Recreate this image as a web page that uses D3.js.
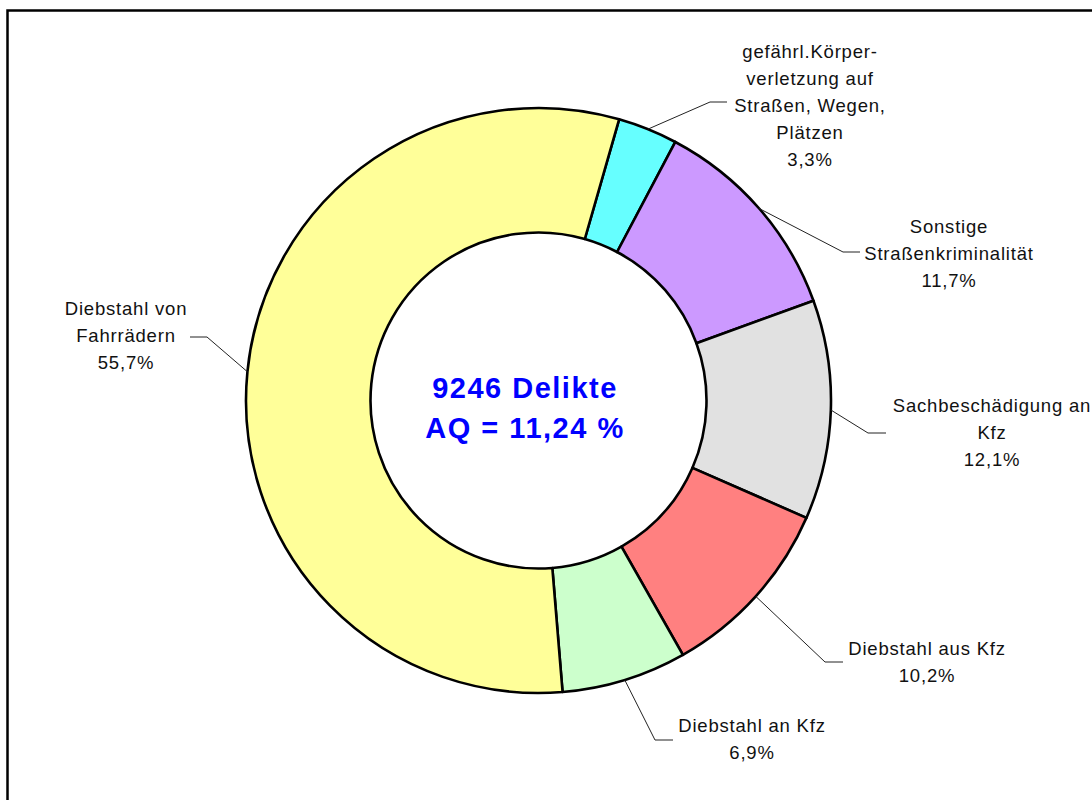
<!DOCTYPE html>
<html>
<head>
<meta charset="utf-8">
<script src="https://cdn.jsdelivr.net/npm/d3@7"></script>
<style>
	body { margin: 0; background: #fff; }
	svg { display: block; font-family: "Liberation Sans", Arial, sans-serif; }
</style>
</head>
<body>
<svg id="donut" width="1092" height="800" viewBox="0 0 1092 800"></svg>
<script>
// categories in clockwise order, starting at the top right
const categories = [
	["gefährl.Körper-", "verletzung auf", "Straßen, Wegen,", "Plätzen"],
	["Sonstige", "Straßenkriminalität"],
	["Sachbeschädigung an", "Kfz"],
	["Diebstahl aus Kfz"],
	["Diebstahl an Kfz"],
	["Diebstahl von", "Fahrrädern"]
];
const shares = [3.3, 11.7, 12.1, 10.2, 6.9, 55.7];
const shareLabels = ["3,3%", "11,7%", "12,1%", "10,2%", "6,9%", "55,7%"];
const colors = ["#66FFFF", "#CC99FF", "#E1E1E1", "#FF8080", "#CCFFCC", "#FFFF99"];
const centerLines = ["9246 Delikte", "AQ = 11,24 %"];

// where labels sit (text centre x, first line y, leader elbow, leader end)
const labelLayout = [
	{ x: 810, y: 52, elbow: [710, 102], end: [727, 102] },
	{ x: 949, y: 227, elbow: [843, 252], end: [860, 252] },
	{ x: 992, y: 406, elbow: [868, 433], end: [886, 433] },
	{ x: 927, y: 649, elbow: [825, 662], end: [843, 662] },
	{ x: 752, y: 726, elbow: [655, 740], end: [673, 740] },
	{ x: 126, y: 309, elbow: [207, 337], end: [190, 337] }
];

const svg = d3.select("#donut");
const cx = 538.5, cy = 400.5;
const outerR = 292.5, innerR = 168;
const lineH = 27;

// chart frame
svg.append("rect")
	.attr("x", 7.5).attr("y", 10.5)
	.attr("width", 1120).attr("height", 820)
	.attr("fill", "none")
	.attr("stroke", "#000")
	.attr("stroke-width", 2.5);

const startAngle = 16 * Math.PI / 180;
const pie = d3.pie()
	.sort(null)
	.value(d => d)
	.startAngle(startAngle)
	.endAngle(startAngle + 2 * Math.PI);

const arcs = pie(shares);
const arc = d3.arc().innerRadius(innerR).outerRadius(outerR);

const g = svg.append("g").attr("transform", `translate(${cx},${cy})`);

g.selectAll("path.slice")
	.data(arcs)
	.enter().append("path")
	.attr("class", "slice")
	.attr("d", arc)
	.attr("fill", (d, i) => colors[i])
	.attr("stroke", "#000")
	.attr("stroke-width", 2.6)
	.attr("stroke-linejoin", "round");

// leader lines
arcs.forEach((d, i) => {
	const mid = (d.startAngle + d.endAngle) / 2;
	const p0 = [cx + outerR * Math.sin(mid), cy - outerR * Math.cos(mid)];
	const L = labelLayout[i];
	svg.append("polyline")
		.attr("points", [p0, L.elbow, L.end].map(p => p.join(",")).join(" "))
		.attr("fill", "none")
		.attr("stroke", "#222")
		.attr("stroke-width", 1);

	const lines = categories[i].concat([shareLabels[i]]);
	const t = svg.append("text")
		.attr("text-anchor", "middle")
		.attr("font-size", "18.5px")
		.attr("letter-spacing", "0.8px")
		.attr("fill", "#111");
	lines.forEach((ln, k) => {
		t.append("tspan")
			.attr("x", L.x)
			.attr("y", L.y + k * lineH)
			.attr("dy", "0.35em")
			.text(ln);
	});
});

// centre text
const ct = svg.append("text")
	.attr("text-anchor", "middle")
	.attr("font-size", "29px")
	.attr("font-weight", "bold")
	.attr("letter-spacing", "1.5px")
	.attr("fill", "#0000FF");
centerLines.forEach((ln, k) => {
	ct.append("tspan")
		.attr("x", 525)
		.attr("y", 388 + k * 40)
		.attr("dy", "0.35em")
		.text(ln);
});
</script>
</body>
</html>
